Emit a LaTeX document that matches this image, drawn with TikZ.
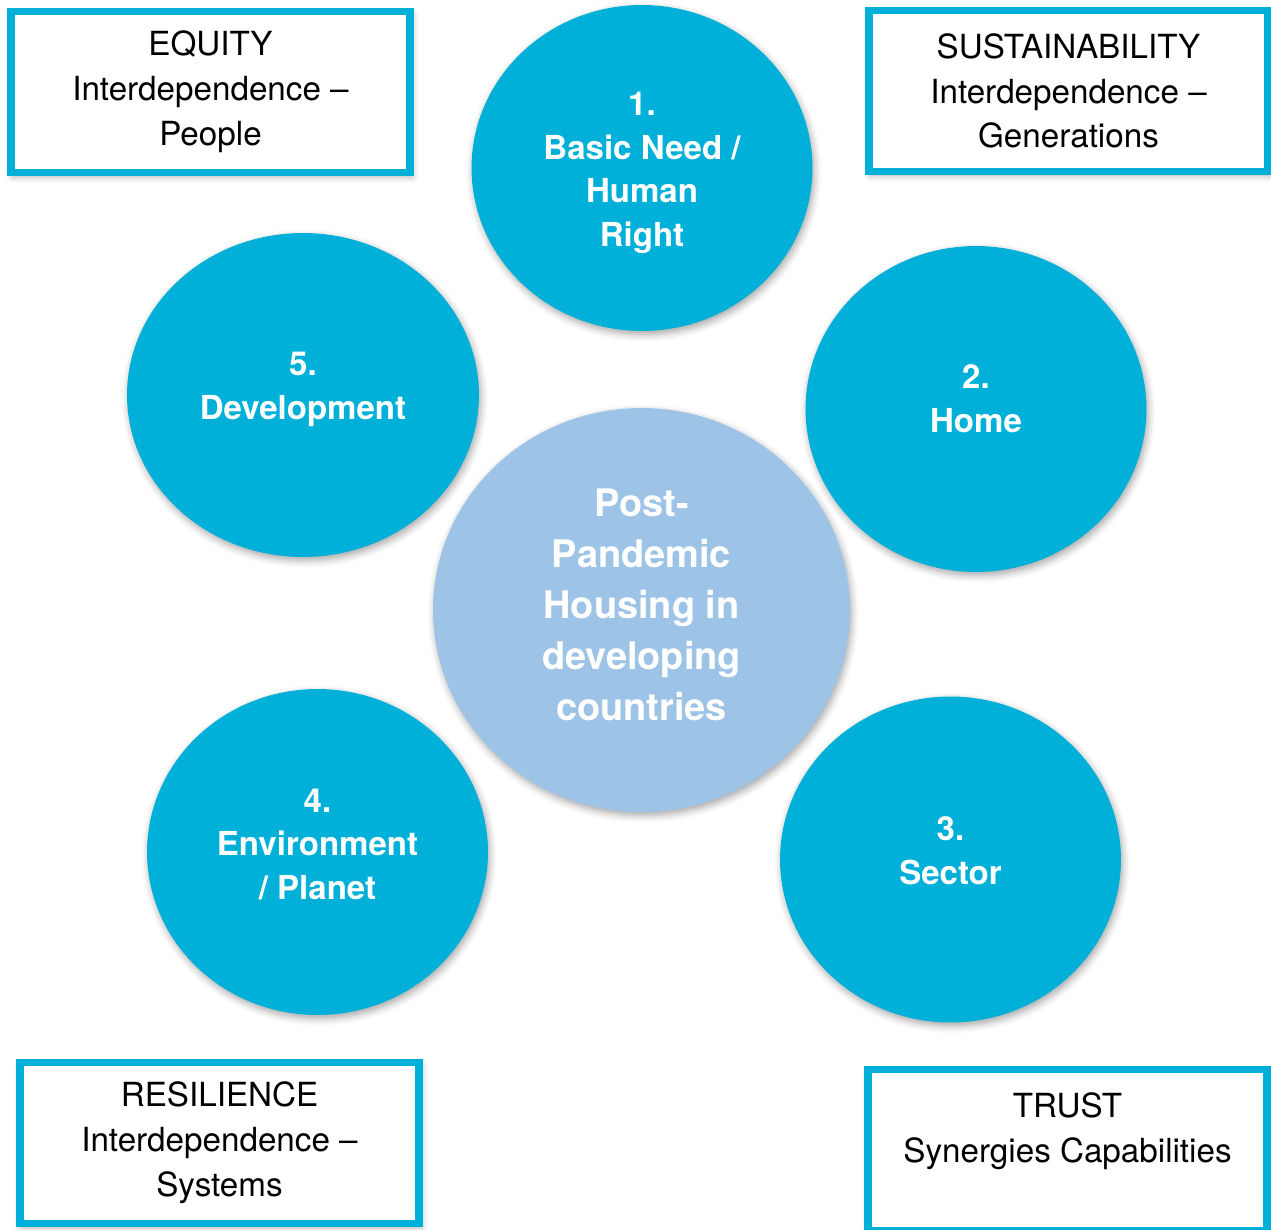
\documentclass[tikz,border=0pt]{standalone}
\usepackage{fontspec}
\setmainfont{TeX Gyre Heros}
\usepackage{xcolor}
\usetikzlibrary{shapes.geometric,shadows.blur}
\definecolor{aqua}{HTML}{00B0D8}
\definecolor{paleblue}{HTML}{9DC3E6}

\begin{document}
\begin{tikzpicture}[x=0.02cm,y=-0.02cm,
    soft/.style={blur shadow={shadow xshift=1pt,shadow yshift=-2pt,shadow blur radius=4pt,shadow opacity=35}},
    bubble/.style={ellipse,fill=aqua,inner sep=0pt,minimum width=6.82cm,minimum height=6.52cm,soft},
    hub/.style={ellipse,fill=paleblue,inner sep=0pt,minimum width=8.34cm,minimum height=8.08cm,soft},
    bubtext/.style={align=center,text=white,inner sep=0pt,font=\bfseries\fontsize{18.8}{24.8}\selectfont},
    hubtext/.style={align=center,text=white,inner sep=0pt,font=\bfseries\fontsize{21.6}{29}\selectfont},
    valuebox/.style={rectangle,draw=aqua,line width=4.5pt,fill=white,minimum width=7.98cm,minimum height=3.22cm,
        align=center,font=\fontsize{18.9}{25.5}\selectfont,soft}]
    \useasboundingbox (0,0) rectangle (1271,1230);
    \node[valuebox](equity)at(210.5,92){EQUITY\\Interdependence --\\People};
    \node[valuebox](sustain)at(1068.5,91){SUSTAINABILITY\\Interdependence --\\Generations};
    \node[valuebox](resil)at(219.5,1143){RESILIENCE\\Interdependence --\\Systems};
    \node[valuebox](trust)at(1067.5,1150){TRUST\\Synergies Capabilities\\\mbox{}};
    \node[bubble](need)at(642,168){};
    \node[bubble](home)at(976,409){};
    \node[bubble](sector)at(950.5,859.5){};
    \node[bubble](planet)at(317.5,852){};
    \node[bubble,minimum width=7.04cm,minimum height=6.48cm](devel)at(303,395){};
    \node[hub](housing)at(641.5,610){};
    \node[bubtext](need-txt)at([yshift=-2.8pt]need.center){1.\\Basic Need /\\Human\\Right};
    \node[bubtext](home-txt)at([yshift=6pt]home.center){2.\\Home};
    \node[bubtext](sector-txt)at([yshift=5pt]sector.center){3.\\Sector};
    \node[bubtext](planet-txt)at([yshift=4.5pt]planet.center){4.\\Environment\\/ Planet};
    \node[bubtext](devel-txt)at([yshift=3.3pt]devel.center){5.\\Development};
    \node[hubtext](housing-txt)at([yshift=3pt]housing.center){Post-\\Pandemic\\Housing in\\developing\\countries};
\end{tikzpicture}
\end{document}
